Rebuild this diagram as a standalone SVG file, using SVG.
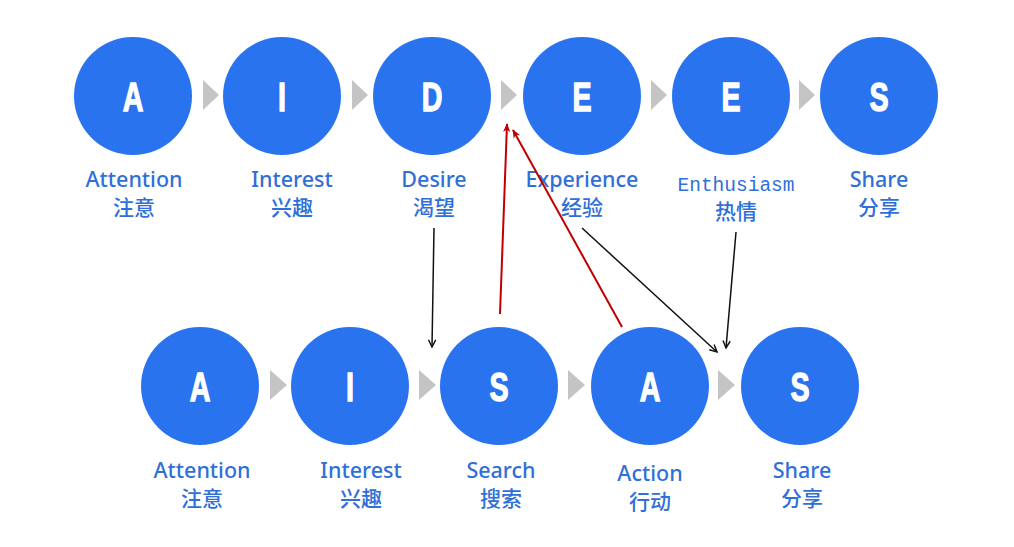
<svg xmlns="http://www.w3.org/2000/svg" width="1014" height="547" viewBox="0 0 1014 547">
<defs>
<style>
.c{fill:#2a73ef}
.l{font-family:"Liberation Sans",Arial,sans-serif;font-weight:bold;font-size:41px;fill:#fff;stroke:#fff;stroke-width:1.3;text-anchor:middle}
.en{font-family:"Noto Sans","Noto Sans CJK SC",sans-serif;font-weight:500;font-size:21.5px;fill:#2f6fd8;text-anchor:middle}
.mono{font-family:"Liberation Mono","DejaVu Sans Mono",monospace;font-size:19.5px;fill:#2f6fd8;text-anchor:middle}
.zh{font-family:"Noto Sans CJK SC",sans-serif;font-weight:500;font-size:21px;fill:#2f6fd8;text-anchor:middle}
.t{fill:#c4c4c4}
.bk{stroke:#111;stroke-width:1.5;fill:none;marker-end:url(#ab)}
.rd{stroke:#c00000;stroke-width:2;fill:none;marker-end:url(#ar)}
</style>
<marker id="ab" viewBox="0 0 10 10" refX="9" refY="5" markerWidth="9" markerHeight="9" markerUnits="userSpaceOnUse" orient="auto">
<path d="M1,1 L9,5 L1,9" fill="none" stroke="#111" stroke-width="1.6"/>
</marker>
<marker id="ar" viewBox="0 0 10 10" refX="9" refY="5" markerWidth="10" markerHeight="9" markerUnits="userSpaceOnUse" orient="auto">
<path d="M0,1 L10,5 L0,9 L3,5 Z" fill="#c00000"/>
</marker>
</defs>
<rect width="1014" height="547" fill="#fff"/>

<g id="top-arrows">
<polygon class="t" points="203,80 219,95 203,110"/>
<polygon class="t" points="352,80 368,95 352,110"/>
<polygon class="t" points="501,80 517,95 501,110"/>
<polygon class="t" points="651,80 667,95 651,110"/>
<polygon class="t" points="799,80 815,95 799,110"/>
</g>
<g id="bottom-arrows">
<polygon class="t" points="270,370 287,385 270,400"/>
<polygon class="t" points="419,370 436,385 419,400"/>
<polygon class="t" points="568,370 585,385 568,400"/>
<polygon class="t" points="718,370 735,385 718,400"/>
</g>

<g id="t-attention"><circle class="c" cx="133" cy="96" r="59"/><text class="l" transform="translate(133,111) scale(0.7,1)">A</text><text class="en" x="134" y="187">Attention</text><text class="zh" x="134" y="215">注意</text></g>
<g id="t-interest"><circle class="c" cx="282" cy="96" r="59"/><text class="l" transform="translate(282,111) scale(0.7,1)">I</text><text class="en" x="292" y="187">Interest</text><text class="zh" x="292" y="215">兴趣</text></g>
<g id="t-desire"><circle class="c" cx="432" cy="96" r="59"/><text class="l" transform="translate(432,111) scale(0.7,1)">D</text><text class="en" x="434" y="187">Desire</text><text class="zh" x="434" y="215">渴望</text></g>
<g id="t-experience"><circle class="c" cx="582" cy="96" r="59"/><text class="l" transform="translate(582,111) scale(0.7,1)">E</text><text class="en" x="582" y="187">Experience</text><text class="zh" x="582" y="215">经验</text></g>
<g id="t-enthusiasm"><circle class="c" cx="731" cy="96" r="59"/><text class="l" transform="translate(731,111) scale(0.7,1)">E</text><text class="mono" x="736" y="191">Enthusiasm</text><text class="zh" x="736" y="219">热情</text></g>
<g id="t-share"><circle class="c" cx="879" cy="96" r="59"/><text class="l" transform="translate(879,111) scale(0.7,1)">S</text><text class="en" x="879" y="187">Share</text><text class="zh" x="879" y="215">分享</text></g>

<g id="b-attention"><circle class="c" cx="200" cy="386" r="59"/><text class="l" transform="translate(200,401) scale(0.7,1)">A</text><text class="en" x="202" y="478">Attention</text><text class="zh" x="202" y="506">注意</text></g>
<g id="b-interest"><circle class="c" cx="350" cy="386" r="59"/><text class="l" transform="translate(350,401) scale(0.7,1)">I</text><text class="en" x="361" y="478">Interest</text><text class="zh" x="361" y="506">兴趣</text></g>
<g id="b-search"><circle class="c" cx="499" cy="386" r="59"/><text class="l" transform="translate(499,401) scale(0.7,1)">S</text><text class="en" x="501" y="478">Search</text><text class="zh" x="501" y="506">搜索</text></g>
<g id="b-action"><circle class="c" cx="650" cy="386" r="59"/><text class="l" transform="translate(650,401) scale(0.7,1)">A</text><text class="en" x="650" y="481">Action</text><text class="zh" x="650" y="509">行动</text></g>
<g id="b-share"><circle class="c" cx="800" cy="386" r="59"/><text class="l" transform="translate(800,401) scale(0.7,1)">S</text><text class="en" x="802" y="478">Share</text><text class="zh" x="802" y="506">分享</text></g>

<g id="connectors">
<line class="bk" x1="434" y1="228" x2="432" y2="347"/>
<line class="bk" x1="582" y1="228" x2="717" y2="352"/>
<line class="bk" x1="736" y1="232" x2="726" y2="348"/>
<line class="rd" x1="500" y1="314" x2="507" y2="124"/>
<line class="rd" x1="622" y1="327" x2="513" y2="130"/>
</g>
</svg>
